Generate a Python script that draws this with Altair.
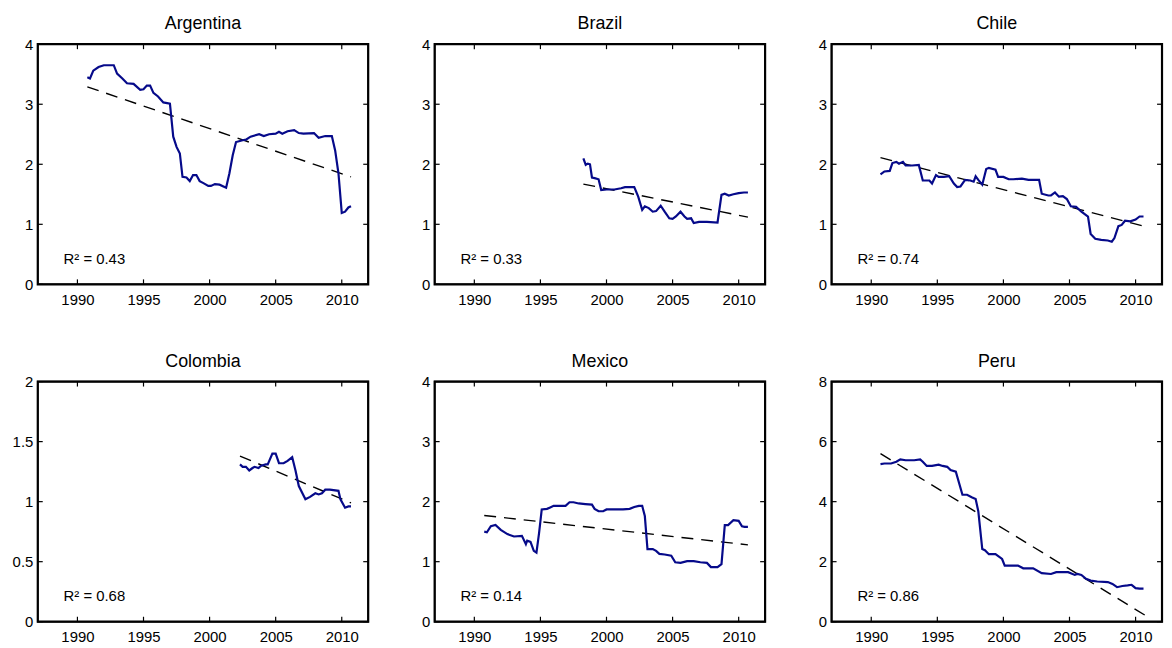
import altair as alt
import pandas as pd

FONT = "Liberation Sans"
LINE_COLOR = "#060a8a"
W, H = 333, 242

countries = ["Argentina", "Brazil", "Chile", "Colombia", "Mexico", "Peru"]
r2_labels = ["R² = 0.43", "R² = 0.33", "R² = 0.74", "R² = 0.68", "R² = 0.14", "R² = 0.86"]
y_max = [4, 4, 4, 2, 4, 8]
y_ticks = [[0, 1, 2, 3, 4], [0, 1, 2, 3, 4], [0, 1, 2, 3, 4],
           [0, 0.5, 1, 1.5, 2], [0, 1, 2, 3, 4], [0, 2, 4, 6, 8]]
x_ticks = [1990, 1995, 2000, 2005, 2010]
x_domain = [1987, 2012]

arg_year = [1990.75, 1990.95, 1991.2, 1991.6, 1992.0, 1992.75, 1993.0, 1993.4, 1993.75, 1994.25,
            1994.75, 1995.0, 1995.25, 1995.5, 1995.75, 1996.1, 1996.5, 1997.0, 1997.25, 1997.5,
            1997.75, 1997.95, 1998.25, 1998.5, 1998.75, 1999.0, 1999.25, 1999.5, 1999.9, 2000.1,
            2000.4, 2000.75, 2001.25, 2001.5, 2001.75, 2002.0, 2002.5, 2002.75, 2003.1, 2003.75,
            2004.1, 2004.5, 2005.0, 2005.25, 2005.5, 2005.9, 2006.4, 2006.75, 2007.1, 2007.9,
            2008.25, 2008.75, 2009.25, 2009.5, 2009.75, 2010.0, 2010.25, 2010.5, 2010.7]
arg_value = [3.45, 3.43, 3.56, 3.62, 3.65, 3.65, 3.51, 3.43, 3.35, 3.34,
             3.24, 3.25, 3.31, 3.31, 3.19, 3.13, 3.03, 3.01, 2.46, 2.29,
             2.18, 1.79, 1.78, 1.72, 1.82, 1.82, 1.72, 1.69, 1.64, 1.64,
             1.67, 1.66, 1.61, 1.85, 2.15, 2.37, 2.40, 2.41, 2.46, 2.50,
             2.47, 2.50, 2.51, 2.54, 2.51, 2.55, 2.57, 2.52, 2.51, 2.52,
             2.44, 2.47, 2.47, 2.23, 1.85, 1.19, 1.21, 1.28, 1.30]

bra_year = [1998.25, 1998.43, 1998.58, 1998.75, 1998.9, 1999.1, 1999.4, 1999.6, 2000.0, 2000.6,
            2001.1, 2001.4, 2002.1, 2002.4, 2002.7, 2002.9, 2003.2, 2003.5, 2003.75, 2004.1,
            2004.4, 2004.75, 2005.0, 2005.25, 2005.6, 2005.9, 2006.1, 2006.4, 2006.6, 2007.0,
            2007.6, 2008.4, 2008.7, 2008.95, 2009.25, 2009.6, 2010.0, 2010.4, 2010.7]
bra_value = [2.10, 1.99, 2.01, 2.00, 1.78, 1.77, 1.75, 1.57, 1.58, 1.58,
             1.60, 1.62, 1.62, 1.46, 1.24, 1.30, 1.27, 1.21, 1.22, 1.31,
             1.21, 1.10, 1.09, 1.13, 1.21, 1.13, 1.09, 1.10, 1.02, 1.04,
             1.04, 1.03, 1.49, 1.51, 1.48, 1.50, 1.52, 1.53, 1.53]

chl_year = [1990.7, 1991.0, 1991.4, 1991.6, 1991.9, 1992.1, 1992.4, 1992.6, 1993.1, 1993.6,
            1993.9, 1994.4, 1994.6, 1994.9, 1995.1, 1995.5, 1995.9, 1996.25, 1996.5, 1996.75,
            1997.1, 1997.5, 1997.75, 1997.9, 1998.1, 1998.4, 1998.7, 1998.9, 1999.4, 1999.6,
            2000.0, 2000.4, 2000.75, 2001.4, 2001.9, 2002.7, 2002.9, 2003.4, 2003.6, 2003.9,
            2004.2, 2004.5, 2004.8, 2005.1, 2005.5, 2005.9, 2006.4, 2006.6, 2006.95, 2007.4,
            2007.9, 2008.2, 2008.4, 2008.7, 2008.95, 2009.2, 2009.6, 2010.0, 2010.3, 2010.6]
chl_value = [1.83, 1.88, 1.89, 2.02, 2.04, 2.01, 2.04, 1.98, 1.98, 1.99,
             1.73, 1.73, 1.68, 1.82, 1.79, 1.79, 1.80, 1.68, 1.62, 1.63,
             1.74, 1.73, 1.71, 1.80, 1.74, 1.66, 1.92, 1.94, 1.91, 1.79,
             1.79, 1.75, 1.75, 1.76, 1.74, 1.74, 1.51, 1.48, 1.48, 1.53,
             1.46, 1.47, 1.42, 1.30, 1.29, 1.21, 1.13, 0.84, 0.76, 0.74,
             0.73, 0.71, 0.77, 0.97, 0.99, 1.06, 1.05, 1.08, 1.13, 1.13]

col_year = [2002.3, 2002.5, 2002.75, 2003.0, 2003.25, 2003.4, 2003.7, 2003.9, 2004.25, 2004.4,
            2004.75, 2005.0, 2005.25, 2005.6, 2005.9, 2006.25, 2006.5, 2006.75, 2007.25, 2007.6,
            2008.0, 2008.25, 2008.5, 2008.75, 2009.1, 2009.75, 2009.9, 2010.25, 2010.5, 2010.7]
col_value = [1.31, 1.29, 1.29, 1.26, 1.28, 1.29, 1.28, 1.30, 1.31, 1.31,
             1.40, 1.40, 1.32, 1.32, 1.34, 1.37, 1.26, 1.13, 1.02, 1.04,
             1.07, 1.06, 1.07, 1.10, 1.10, 1.09, 1.02, 0.95, 0.96, 0.96]

mex_year = [1990.75, 1990.95, 1991.25, 1991.6, 1992.0, 1992.5, 1993.0, 1993.6, 1993.9, 1994.0,
            1994.25, 1994.5, 1994.7, 1994.9, 1995.1, 1995.5, 1995.7, 1996.0, 1996.9, 1997.2,
            1997.5, 1997.9, 1998.4, 1998.9, 1999.1, 1999.4, 1999.75, 2000.0, 2000.6, 2001.25,
            2001.75, 2002.1, 2002.45, 2002.7, 2002.9, 2003.1, 2003.5, 2003.75, 2004.0, 2004.4,
            2004.9, 2005.2, 2005.6, 2006.1, 2006.6, 2007.1, 2007.6, 2007.9, 2008.4, 2008.7,
            2008.95, 2009.2, 2009.6, 2010.0, 2010.25, 2010.45, 2010.7]
mex_value = [1.50, 1.49, 1.59, 1.61, 1.53, 1.46, 1.42, 1.43, 1.29, 1.35,
             1.33, 1.18, 1.15, 1.48, 1.87, 1.88, 1.90, 1.93, 1.93, 1.99,
             1.99, 1.97, 1.96, 1.95, 1.88, 1.84, 1.84, 1.87, 1.87, 1.87,
             1.88, 1.91, 1.93, 1.93, 1.76, 1.21, 1.21, 1.18, 1.13, 1.12,
             1.10, 0.99, 0.98, 1.01, 1.01, 0.99, 0.98, 0.91, 0.91, 0.96,
             1.61, 1.61, 1.69, 1.68, 1.59, 1.58, 1.58]

per_year = [1990.7, 1991.0, 1991.5, 1991.9, 1992.2, 1992.6, 1993.25, 1993.7, 1993.9, 1994.2,
            1994.6, 1995.1, 1995.4, 1995.75, 1996.0, 1996.4, 1996.9, 1997.25, 1997.6, 1997.9,
            1998.1, 1998.4, 1998.6, 1998.9, 1999.4, 1999.9, 2000.1, 2000.5, 2001.1, 2001.5,
            2002.25, 2002.9, 2003.6, 2004.0, 2004.9, 2005.4, 2005.6, 2005.9, 2006.25, 2006.6,
            2007.1, 2007.9, 2008.25, 2008.6, 2009.0, 2009.4, 2009.7, 2010.0, 2010.3, 2010.6]
per_value = [5.25, 5.27, 5.27, 5.33, 5.41, 5.38, 5.38, 5.41, 5.33, 5.19,
             5.19, 5.23, 5.19, 5.16, 5.05, 5.00, 4.23, 4.23, 4.15, 4.09,
             3.68, 2.42, 2.38, 2.25, 2.25, 2.09, 1.87, 1.87, 1.87, 1.78,
             1.78, 1.62, 1.59, 1.65, 1.65, 1.56, 1.59, 1.56, 1.43, 1.37,
             1.34, 1.32, 1.26, 1.15, 1.19, 1.21, 1.23, 1.12, 1.10, 1.10]

# fitted linear trend: start and end points
trend_year = [[1990.75, 2010.7], [1998.25, 2010.7], [1990.7, 2010.6],
              [2002.3, 2010.7], [1990.75, 2010.7], [1990.7, 2010.7]]
trend_value = [[3.29, 1.79], [1.67, 1.12], [2.11, 0.97],
               [1.38, 0.99], [1.77, 1.28], [5.60, 0.22]]

series_year = [arg_year, bra_year, chl_year, col_year, mex_year, per_year]
series_value = [arg_value, bra_value, chl_value, col_value, mex_value, per_value]


def panel(i):
    df = pd.DataFrame({"year": series_year[i], "value": series_value[i]})
    fd = pd.DataFrame({"year": trend_year[i], "value": trend_value[i]})
    tx = pd.DataFrame({"year": x_ticks})
    ty = pd.DataFrame({"value": y_ticks[i]})
    lab = pd.DataFrame({"label": [r2_labels[i]], "name": [countries[i]]})
    xs = alt.Scale(domain=x_domain, nice=False, zero=False)
    ys = alt.Scale(domain=[0, y_max[i]], nice=False, zero=True)

    ax_x = alt.Axis(orient="bottom", values=x_ticks, format="d", ticks=False, domain=False,
                    grid=False, labelPadding=8, labelFontSize=15, labelFont=FONT,
                    labelColor="black", title=None)
    ax_y = alt.Axis(orient="left", values=y_ticks[i], format="~g", ticks=False, domain=False,
                    grid=False, labelPadding=5, labelFontSize=15, labelFont=FONT,
                    labelColor="black", title=None)
    X = alt.X("year:Q", scale=xs, axis=ax_x)
    Y = alt.Y("value:Q", scale=ys, axis=ax_y)

    frame = alt.Chart(lab).mark_rect(fill="white", fillOpacity=0, stroke="#000000",
                                     strokeOpacity=1, strokeWidth=2.2).encode(
        x=alt.value(0), x2=alt.value(W), y=alt.value(0), y2=alt.value(H))
    tick_bottom = alt.Chart(tx).mark_rule(color="black", strokeWidth=1.2).encode(
        x=X, y=alt.value(H), y2=alt.value(H - 5))
    tick_top = alt.Chart(tx).mark_rule(color="black", strokeWidth=1.2).encode(
        x=X, y=alt.value(0), y2=alt.value(5))
    tick_left = alt.Chart(ty).mark_rule(color="black", strokeWidth=1.2).encode(
        y=Y, x=alt.value(0), x2=alt.value(5))
    tick_right = alt.Chart(ty).mark_rule(color="black", strokeWidth=1.2).encode(
        y=Y, x=alt.value(W), x2=alt.value(W - 5))

    trend = alt.Chart(fd).mark_line(color="black", strokeWidth=1.4, strokeDash=[12, 8]).encode(
        x=X, y=Y)
    line = alt.Chart(df).mark_line(color=LINE_COLOR, strokeWidth=2.2).encode(x=X, y=Y)
    txt = alt.Chart(lab).mark_text(align="left", baseline="alphabetic", fontSize=15,
                                   font=FONT, color="black").encode(
        text="label:N", x=alt.value(26), y=alt.value(H - 21))
    ttl = alt.Chart(lab).mark_text(align="center", baseline="alphabetic", fontSize=18,
                                   font=FONT, color="black").encode(
        text="name:N", x=alt.value(W / 2), y=alt.value(-15))

    return alt.layer(tick_bottom, tick_top, tick_left, tick_right, trend, line, txt, ttl,
                     frame).properties(width=W, height=H)


chart = alt.concat(*[panel(i) for i in range(6)], columns=3,
                   spacing={"row": 98, "column": 67}, bounds="flush").properties(
    padding={"top": 4, "left": 3, "right": 0, "bottom": 0},
    background="white",
).configure(
    view=alt.ViewConfig(stroke="black", strokeWidth=1.5),
    style={"cell": {"stroke": "black", "strokeWidth": 1.5}},
)

chart.save("out.html", embed_options={"renderer": "svg", "actions": False})
